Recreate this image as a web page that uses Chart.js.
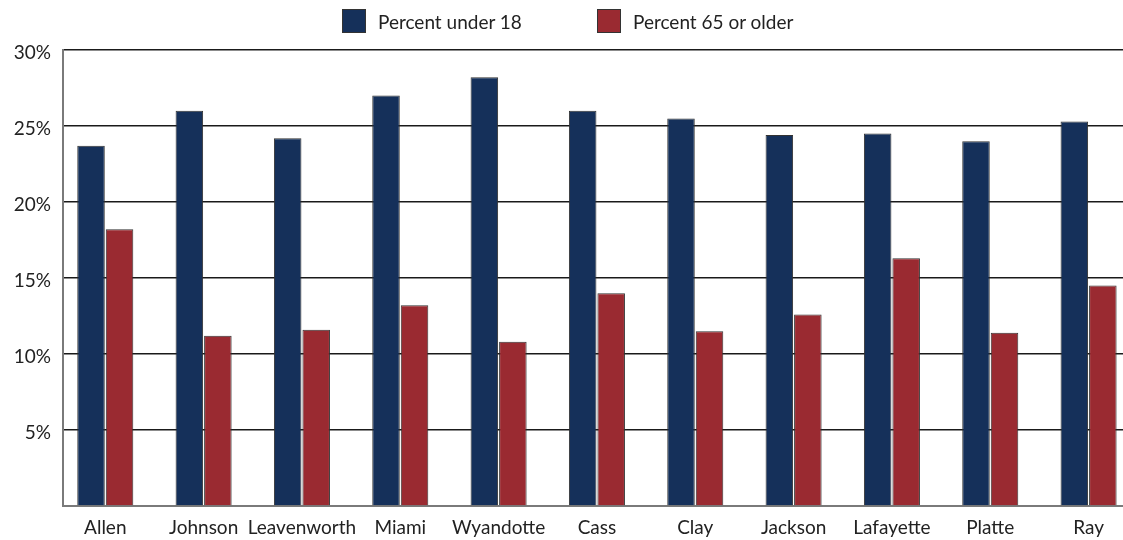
<!DOCTYPE html>
<html>
<head>
<meta charset="utf-8">
<script src="https://cdn.jsdelivr.net/npm/chart.js@4.4.1/dist/chart.umd.min.js"></script>
<style>
  html, body { margin: 0; padding: 0; background: #fff; }
  #wrap { position: relative; width: 1123px; height: 540px; overflow: hidden; }
  #chart { position: absolute; left: 0; top: 0; }
  .leg { position: absolute; top: 9px; height: 24px; display: flex; align-items: center; font-family: Lato, "Open Sans", sans-serif; font-size: 19px; color: #222; white-space: nowrap; }
  .leg .box { width: 22px; height: 22px; border: 1px solid #333; margin-right: 12px; }
</style>
</head>
<body>
<div id="wrap">
  <canvas id="chart" width="1123" height="540"></canvas>
  <div class="leg" style="left:342px"><div class="box" id="b0"></div><span id="t0"></span></div>
  <div class="leg" style="left:597px"><div class="box" id="b1"></div><span id="t1"></span></div>
</div>
<script>
const categories = ["Allen", "Johnson", "Leavenworth", "Miami", "Wyandotte", "Cass", "Clay", "Jackson", "Lafayette", "Platte", "Ray"];
const seriesNames = ["Percent under 18", "Percent 65 or older"];
const under18 = [23.7, 26.0, 24.2, 27.0, 28.2, 26.0, 25.5, 24.4, 24.5, 24.0, 25.3];
const over65 = [18.2, 11.2, 11.6, 13.2, 10.8, 14.0, 11.5, 12.6, 16.3, 11.4, 14.5];
const yTicks = [0, 5, 10, 15, 20, 25, 30];
const colors = ["#15305A", "#9A2A31"];

document.getElementById('b0').style.background = colors[0];
document.getElementById('b1').style.background = colors[1];
document.getElementById('t0').textContent = seriesNames[0];
document.getElementById('t1').textContent = seriesNames[1];

const FONT = "Lato, 'Open Sans', sans-serif";

new Chart(document.getElementById('chart'), {
  type: 'bar',
  data: {
    datasets: [
      { label: seriesNames[0], data: under18.map((v, i) => ({ x: i, y: v })), backgroundColor: colors[0], borderColor: '#333', borderWidth: 1, categoryPercentage: 0.58, barPercentage: 0.965 },
      { label: seriesNames[1], data: over65.map((v, i) => ({ x: i, y: v })), backgroundColor: colors[1], borderColor: '#333', borderWidth: 1, categoryPercentage: 0.58, barPercentage: 0.965 }
    ]
  },
  options: {
    responsive: false,
    animation: false,
    layout: { padding: { top: 50, right: 0, left: 0, bottom: 0 } },
    plugins: { legend: { display: false }, tooltip: { enabled: false } },
    scales: {
      x: {
        type: 'linear',
        offset: false,
        min: -0.43,
        max: 10.35,
        afterBuildTicks: (s) => { s.ticks = categories.map((c, i) => ({ value: i })); },
        afterFit: (s) => { s.height = 34; },
        grid: { display: false, drawTicks: false, offset: false },
        border: { display: true, color: '#7a7a7a', width: 2 },
        ticks: {
          autoSkip: false, maxRotation: 0, padding: 10,
          color: '#222', font: { family: FONT, size: 19 },
          callback: (v) => categories[v] ?? ''
        }
      },
      y: {
        min: 0, max: 30,
        afterBuildTicks: (s) => { s.ticks = yTicks.map(v => ({ value: v })); },
        afterFit: (s) => { s.width = 63; },
        grid: { color: (ctx) => ctx.tick && ctx.tick.value === 0 ? 'rgba(0,0,0,0)' : '#1a1a1a', lineWidth: 1.5, drawTicks: false },
        border: { display: true, color: '#7a7a7a', width: 2 },
        ticks: {
          padding: 12, labelOffset: 3,
          color: '#222', font: { family: FONT, size: 19 },
          callback: (v) => v === 0 ? '' : v + '%'
        }
      }
    }
  }
});
</script>
</body>
</html>
